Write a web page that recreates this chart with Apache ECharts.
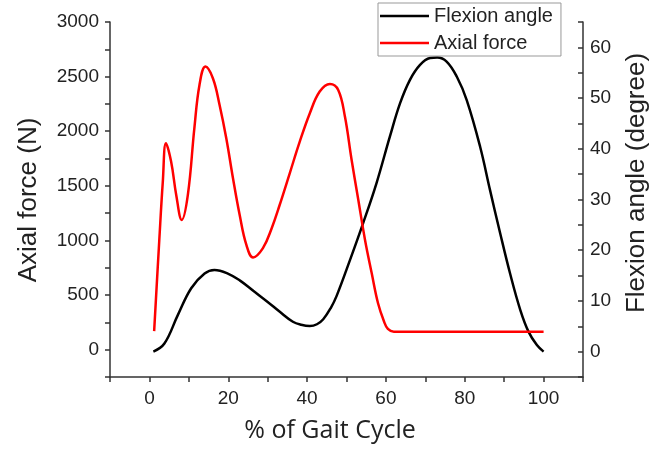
<!DOCTYPE html>
<html><head><meta charset="utf-8">
<script src="https://cdn.jsdelivr.net/npm/echarts@6/dist/echarts.min.js"></script>
<style>html,body{margin:0;padding:0;background:#fff}#c{width:672px;height:452px}</style>
</head><body><div id="c"></div>
<script>
// Axial force (N), red, left axis
const forceX = [1.2, 2.5, 3.4, 4.2, 5.5, 6.8, 8.2, 9.75, 11.4, 12.7, 14.2, 16.1, 17.8, 19.5, 21.2, 22.9, 24.6, 26.3, 28.8, 31, 33, 35.6, 38.1, 40.7, 43.2, 45.8, 47.9, 49.6, 51.3, 53, 54.7, 56.4, 58, 59.5, 60.5, 62, 70, 80, 90, 100];
const forceY = [170, 1000, 1538, 1890, 1722, 1417, 1188, 1417, 2027, 2424, 2592, 2485, 2241, 1936, 1570, 1233, 959, 845, 930, 1110, 1320, 1615, 1900, 2165, 2363, 2433, 2378, 2134, 1737, 1371, 1005, 700, 425, 260, 190, 165, 165, 165, 165, 165];
// Flexion angle (degree), black, right axis
const angleX = [1, 3.8, 7.2, 10.6, 14, 16.5, 19.9, 23, 26.5, 30, 33, 36.4, 38.5, 40.7, 42.5, 44.1, 46, 47.5, 50.9, 54.2, 57.6, 61, 63.6, 66.1, 68.6, 71.2, 73, 75.4, 78, 80.5, 83.9, 86.4, 89, 91.5, 94.1, 96.2, 98.3, 100];
const angleY = [0, 1.6, 7.2, 12.5, 15.4, 16.1, 15.4, 14.0, 11.9, 9.8, 7.9, 5.9, 5.3, 5.05, 5.4, 6.4, 8.6, 11.0, 18.1, 25.3, 33.2, 42.4, 49, 53.6, 56.5, 57.9, 58, 57.2, 54.2, 49.6, 40.4, 31.9, 23.3, 15.4, 8.2, 3.9, 1.3, 0];

const xTickLabels = [0, 20, 40, 60, 80, 100];
const leftTickLabels = [0, 500, 1000, 1500, 2000, 2500, 3000];
const rightTickLabels = [0, 10, 20, 30, 40, 50, 60];

const seriesNames = ['Flexion angle', 'Axial force'];
const xTitle = '% of Gait Cycle';
const leftTitle = 'Axial force (N)';
const rightTitle = 'Flexion angle (degree)';

const zip = (xs, ys) => xs.map((x, i) => [x, ys[i]]);
const axisColor = '#333';
const labelFont = {fontFamily: 'Liberation Sans', fontSize: 19, color: '#222'};

const chart = echarts.init(document.getElementById('c'), null, {renderer: 'canvas'});
chart.setOption({
  animation: false,
  backgroundColor: '#fff',
  grid: {left: 110, right: 89, top: 22, bottom: 75},
  legend: {
    orient: 'vertical', left: 378, top: 3,
    data: seriesNames,
    icon: 'rect', itemWidth: 49, itemHeight: 2.5, itemGap: 5,
    padding: [2, 8, 2, 2],
    borderColor: '#999', borderWidth: 1,
    textStyle: {fontFamily: 'Liberation Sans', fontSize: 20, color: '#222', lineHeight: 22}
  },
  xAxis: {
    type: 'value', min: -10, max: 110, interval: 10,
    axisLine: {onZero: false, lineStyle: {color: axisColor, width: 1.5}},
    axisTick: {show: true, length: 5, lineStyle: {color: axisColor, width: 1.5}},
    splitLine: {show: false},
    axisLabel: Object.assign({margin: 12, formatter: v => xTickLabels.includes(v) ? String(v) : ''}, labelFont)
  },
  yAxis: [
    {
      type: 'value', position: 'left', min: -250, max: 3000, interval: 250,
      axisLine: {show: true, onZero: false, lineStyle: {color: axisColor, width: 1.5}},
      axisTick: {show: true, length: 5, lineStyle: {color: axisColor, width: 1.5}},
      splitLine: {show: false},
      axisLabel: Object.assign({margin: 11, formatter: v => leftTickLabels.includes(v) ? String(v) : ''}, labelFont)
    },
    {
      type: 'value', position: 'right', min: -5, max: 65, interval: 5,
      axisLine: {show: true, onZero: false, lineStyle: {color: axisColor, width: 1.5}},
      axisTick: {show: true, inside: true, length: 5, lineStyle: {color: axisColor, width: 1.5}},
      splitLine: {show: false},
      axisLabel: Object.assign({margin: 7, formatter: v => rightTickLabels.includes(v) ? String(v) : ''}, labelFont)
    }
  ],
  series: [
    {
      name: seriesNames[0], type: 'line', yAxisIndex: 1,
      data: zip(angleX, angleY), smooth: 0.4, showSymbol: false, symbol: 'none',
      color: '#000', lineStyle: {color: '#000', width: 2.5}
    },
    {
      name: seriesNames[1], type: 'line', yAxisIndex: 0,
      data: zip(forceX, forceY), smooth: 0.4, showSymbol: false, symbol: 'none',
      color: '#ff0000', lineStyle: {color: '#ff0000', width: 2.5}
    }
  ],
  graphic: [
    {type: 'text', x: 29, y: 200, rotation: Math.PI / 2,
     style: {text: leftTitle, font: '26px "Liberation Sans"', fill: '#222', align: 'center', verticalAlign: 'middle'}},
    {type: 'text', x: 637, y: 183, rotation: Math.PI / 2,
     style: {text: rightTitle, font: '26px "Liberation Sans"', fill: '#222', align: 'center', verticalAlign: 'middle'}},
    {type: 'text', x: 330, y: 431,
     style: {text: xTitle, font: '25px "Open Sans"', fill: '#222', align: 'center', verticalAlign: 'middle'}}
  ]
});
</script></body></html>
